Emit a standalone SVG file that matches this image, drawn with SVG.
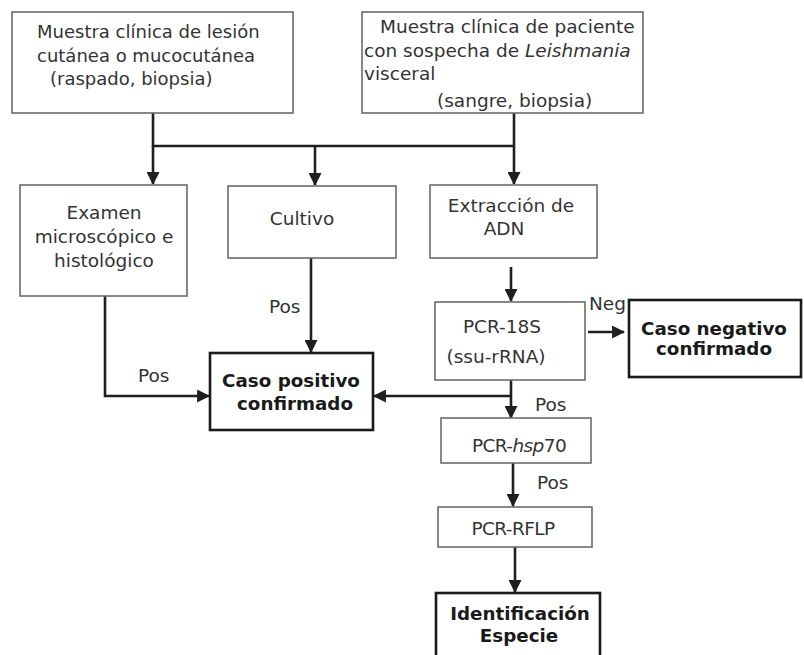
<svg xmlns="http://www.w3.org/2000/svg" width="804" height="655" viewBox="0 0 804 655">
<style>
.box{fill:#fff;stroke:#6b6b6b;stroke-width:1.6}
.bold{fill:#fff;stroke:#1a1a1a;stroke-width:2.6}
.t{font-family:"DejaVu Sans",Verdana,sans-serif;font-size:18.5px;fill:#333}
.tb{font-family:"DejaVu Sans",Verdana,sans-serif;font-size:18.3px;font-weight:bold;fill:#1a1a1a}
.s18{font-size:18px}
.c{text-anchor:middle}
.ln{fill:none;stroke:#1f1f1f;stroke-width:2.6}
.ar{fill:none;stroke:#1f1f1f;stroke-width:2.6;marker-end:url(#ah)}
</style>
<defs>
<marker id="ah" viewBox="0 0 12 12" refX="11" refY="6" markerWidth="13" markerHeight="13" markerUnits="userSpaceOnUse" orient="auto">
<path d="M0,0 L12,6 L0,12 z" fill="#1f1f1f"/>
</marker>
</defs>
<rect width="804" height="655" fill="#fff"/>

<g id="connectors">
<path class="ln" d="M153,113 V146 H514"/>
<path class="ar" d="M153,146 V184"/>
<path class="ar" d="M315,146 V185"/>
<path class="ar" d="M514,113 V184"/>
<path class="ar" d="M105,296 V396 H209"/>
<path class="ar" d="M311,258 V352"/>
<path class="ar" d="M511,267 V301"/>
<path class="ar" d="M561,317 V352"/>
<path class="ar" d="M588,332 H624"/>
<path class="ar" d="M511,380 V418"/>
<path class="ar" d="M511,396 H374"/>
<path class="ar" d="M513,463 V506"/>
<path class="ar" d="M515,547 V592"/>
<text class="t" x="138" y="382">Pos</text>
<text class="t" x="269" y="313">Pos</text>
<text class="t" x="589" y="310">Neg</text>
<text class="t" x="535" y="411">Pos</text>
<text class="t" x="537" y="489">Pos</text>
</g>

<g id="n1">
<rect class="box" x="12" y="12" width="281" height="101"/>
<text class="t s18" x="37" y="38">Muestra clínica de lesión</text>
<text class="t s18" x="37" y="62">cutánea o mucocutánea</text>
<text class="t s18" x="50" y="85">(raspado, biopsia)</text>
</g>

<g id="n2">
<rect class="box" x="362" y="12" width="281" height="101"/>
<text class="t" x="380" y="33">Muestra clínica de paciente</text>
<text class="t" x="364" y="57">con sospecha de <tspan font-style="italic">Leishmania</tspan></text>
<text class="t" x="364" y="80">visceral</text>
<text class="t" x="437" y="107">(sangre, biopsia)</text>
</g>

<g id="examen">
<rect class="box" x="20" y="185" width="167" height="111"/>
<text class="t c" x="104" y="219">Examen</text>
<text class="t c" x="104" y="243">microscópico e</text>
<text class="t c" x="104" y="267">histológico</text>
</g>

<g id="cultivo">
<rect class="box" x="228" y="186" width="168" height="72"/>
<text class="t c" x="302" y="225">Cultivo</text>
</g>

<g id="positivo">
<rect class="bold" x="210" y="353" width="163" height="77"/>
<text class="tb c" x="291" y="387">Caso positivo</text>
<text class="tb c" x="295" y="410">confirmado</text>
</g>

<g id="extraccion">
<rect class="box" x="430" y="185" width="167" height="73"/>
<text class="t c" x="511" y="212">Extracción de</text>
<text class="t c" x="504" y="235">ADN</text>
</g>

<g id="pcr18s">
<rect class="box" x="435" y="302" width="150" height="78"/>
<text class="t c" x="502" y="333">PCR-18S</text>
<text class="t c" x="496" y="363">(ssu-rRNA)</text>
</g>

<g id="negativo">
<rect class="bold" x="629" y="300" width="172" height="77"/>
<text class="tb c" x="714" y="335">Caso negativo</text>
<text class="tb c" x="714" y="355">confirmado</text>
</g>

<g id="hsp70">
<rect class="box" x="441" y="418" width="150" height="45"/>
<text class="t c" x="519" y="452" letter-spacing="-0.6">PCR-<tspan font-style="italic">hsp</tspan>70</text>
</g>

<g id="rflp">
<rect class="box" x="438" y="507" width="154" height="40"/>
<text class="t c" x="513" y="535" letter-spacing="-0.6">PCR-RFLP</text>
</g>

<g id="especie">
<rect class="bold" x="436" y="593" width="164" height="70"/>
<text class="tb c" x="520" y="620">Identificación</text>
<text class="tb c" x="519" y="642">Especie</text>
</g>
</svg>
